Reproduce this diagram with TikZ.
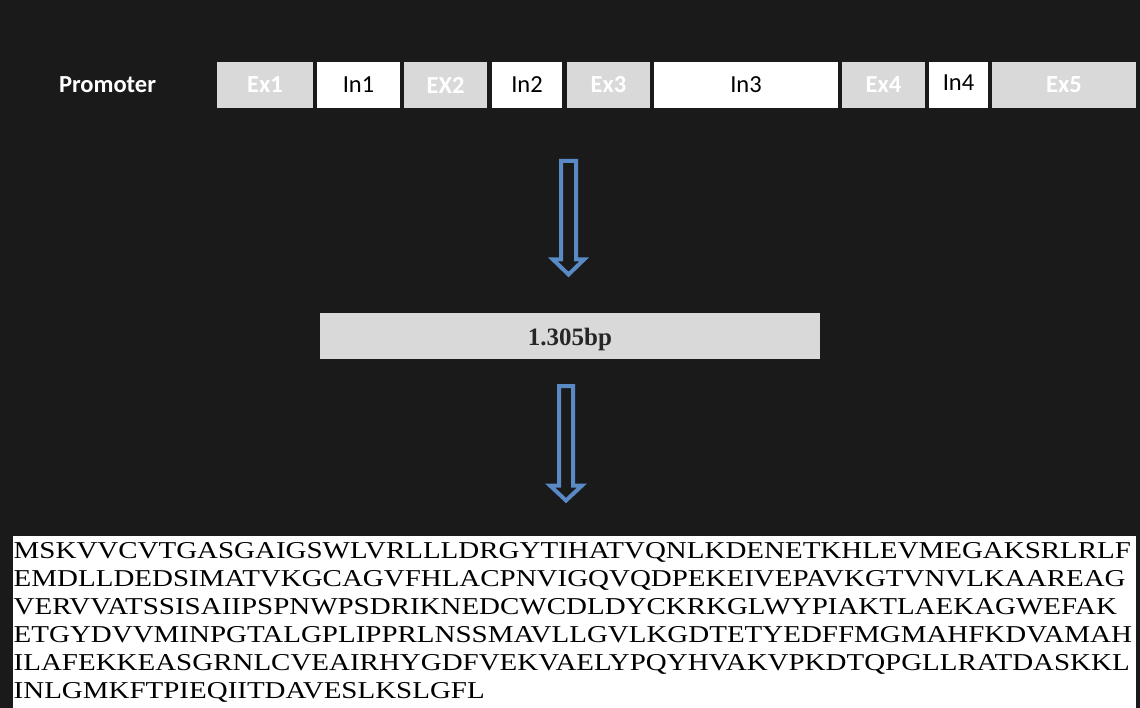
\documentclass[tikz,border=0pt]{standalone}
\usepackage{fontspec}
\setmainfont{Liberation Serif}
\newfontfamily\calibrifont{Carlito}
\definecolor{bgdark}{HTML}{1A1A1A}
\definecolor{exgray}{HTML}{D9D9D9}
\definecolor{arrowblue}{HTML}{5A8AC6}
\definecolor{bptext}{HTML}{262626}
\tikzset{
  exonbox/.style={fill=exgray, draw=none, minimum height=46pt, inner sep=0pt,
    text=white, font=\calibrifont\bfseries\fontsize{24.5}{28}\selectfont},
  intronbox/.style={fill=white, draw=none, minimum height=46pt, inner sep=0pt,
    text=black, font=\calibrifont\fontsize{24.5}{28}\selectfont},
  blockarrow/.style={draw=arrowblue, line width=4pt, fill=bgdark, line join=miter},
  seqline/.style={anchor=base west, inner sep=0pt, text=black,
    font=\fontsize{24.2}{27.9}\selectfont, xscale=1.197, transform shape}
}
\begin{document}
\begin{tikzpicture}[x=1pt,y=-1pt]
\fill[bgdark] (0,0) rectangle (1140,708);
\useasboundingbox (0,0) rectangle (1140,708);

% gene structure
\node[text=white, font=\calibrifont\bfseries\fontsize{24.5}{28}\selectfont] (prom) at (107.5,85) {Promoter};
\node[exonbox, minimum width=96pt] (ex1) at (265,85) {Ex1};
\node[intronbox, minimum width=83pt] (in1) at (358.5,85) {In1};
\node[exonbox, minimum width=83pt] (ex2) at (445.5,85) {EX2};
\node[intronbox, minimum width=70pt] (in2) at (527,85) {In2};
\node[exonbox, minimum width=83pt] (ex3) at (608.5,85) {Ex3};
\node[intronbox, minimum width=184pt] (in3) at (746,85) {In3};
\node[exonbox, minimum width=83pt] (ex4) at (883.5,85) {Ex4};
\node[intronbox, minimum width=59pt, minimum height=46pt] (in4) at (958.5,85) {};
\node[text=black, font=\calibrifont\fontsize{24.5}{28}\selectfont, inner sep=0pt] (in4t) at (958.5,82.5) {In4};
\node[exonbox, minimum width=144pt] (ex5) at (1064,85) {Ex5};

% arrow 1
\draw[blockarrow] (561,161) -- (576,161) -- (576,259.5) -- (584,259.5) -- (568.5,274.5)
  -- (553,259.5) -- (561,259.5) -- cycle;

% middle box
\node[fill=exgray, minimum width=500pt, minimum height=46pt, inner sep=0pt] (cds) at (570,336) {};
\node[anchor=base, inner sep=0pt, text=bptext, font=\bfseries\fontsize{25}{29}\selectfont] (bp) at (570,345) {1.305bp};

% arrow 2
\draw[blockarrow] (559,386) -- (573,386) -- (573,485.5) -- (582,485.5) -- (566,500.5)
  -- (550,485.5) -- (559,485.5) -- cycle;

% protein sequence
\node[fill=white, draw=none, anchor=north west, minimum width=1123pt, minimum height=172pt, inner sep=0pt] (seqbox) at (13,536) {};
\node[seqline] (l1) at (13.5,558.7) {MSKVVCVTGASGAIGSWLVRLLLDRGYTIHATVQNLKDENETKHLEVMEGAKSRLRLF};
\node[seqline] (l2) at (13.5,586.6) {EMDLLDEDSIMATVKGCAGVFHLACPNVIGQVQDPEKEIVEPAVKGTVNVLKAAREAG};
\node[seqline] (l3) at (13.5,614.5) {VERVVATSSISAIIPSPNWPSDRIKNEDCWCDLDYCKRKGLWYPIAKTLAEKAGWEFAK};
\node[seqline] (l4) at (13.5,642.4) {ETGYDVVMINPGTALGPLIPPRLNSSMAVLLGVLKGDTETYEDFFMGMAHFKDVAMAH};
\node[seqline] (l5) at (13.5,670.3) {ILAFEKKEASGRNLCVEAIRHYGDFVEKVAELYPQYHVAKVPKDTQPGLLRATDASKKL};
\node[seqline] (l6) at (13.5,698.2) {INLGMKFTPIEQIITDAVESLKSLGFL};
\end{tikzpicture}
\end{document}
